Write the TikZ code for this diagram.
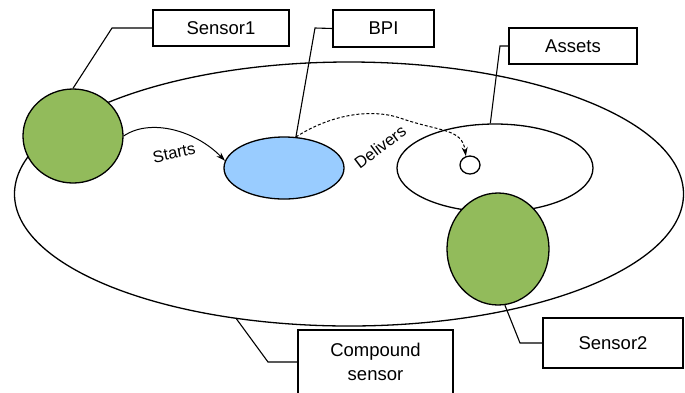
\documentclass[tikz,border=0pt]{standalone}
\usepackage{fontspec}
\setmainfont{Liberation Sans}
\usetikzlibrary{shapes.geometric,arrows.meta}
\definecolor{sgreen}{RGB}{146,187,91}
\definecolor{sblue}{RGB}{153,204,255}
\tikzset{
  ell/.style={ellipse,draw,line width=1.3pt,inner sep=0pt},
  lbl/.style={draw,line width=1.1pt,fill=white,align=center,inner sep=0pt,font=\fontsize{18.5}{24}\selectfont},
  conn/.style={line width=1.1pt},
  rel/.style={line width=1pt,-{Stealth[length=9pt,width=6pt]}},
  rellbl/.style={font=\fontsize{16.5}{18}\selectfont,inner sep=0pt}
}
\begin{document}
\begin{tikzpicture}[x=1pt,y=-1pt]
\useasboundingbox (0,0) rectangle (685,392);
% compound sensor
\node[ell,fill=white,minimum width=669pt,minimum height=264pt] (comp) at (349,194) {};
% inner assets ellipse
\node[ell,minimum width=196pt,minimum height=88pt] (inner) at (495,168) {};
\node[ell,minimum width=20pt,minimum height=18pt] (asset) at (470,165) {};
% sensors and BPI
\node[ell,fill=sgreen,minimum width=100pt,minimum height=94pt] (s1) at (73,136) {};
\node[ell,fill=sblue,minimum width=120pt,minimum height=62pt] (bpi) at (284,168) {};
\node[ell,fill=sgreen,minimum width=102pt,minimum height=112pt] (s2) at (498,249) {};
% label boxes
\node[lbl,minimum width=136pt,minimum height=36pt] (ls1) at (221,28) {Sensor1};
\node[lbl,minimum width=101pt,minimum height=37pt] (lbpi) at (383.5,28.5) {BPI};
\node[lbl,minimum width=128pt,minimum height=36pt] (lass) at (573,46) {Assets};
\node[lbl,minimum width=140pt,minimum height=50pt] (ls2) at (613,343) {Sensor2};
\node[lbl,minimum width=155pt,minimum height=64pt] (lcomp) at (375.5,362) {Compound\\sensor};
% connectors to labels
\draw[conn] (s1.north) -- (112,28) -- (ls1.west);
\draw[conn] (bpi.69) -- (315,28) -- (lbpi.west);
\draw[conn] (inner.96) -- (500,46) -- (lass.west);
\draw[conn] (s2.-83) -- (520,343) -- (ls2.west);
\draw[conn] (comp.228.7) -- (268,362) -- (lcomp.west);
% relations
\draw[rel] (s1.east) .. controls (150,118) and (195,130) .. (bpi.173);
\draw[rel,dash pattern=on 3pt off 2pt] (bpi.69) .. controls (330,115) and (370,108) .. (400,118) .. controls (440,132) and (462,128) .. (asset.115);
\node[rellbl,rotate=12] (tstarts) at (174,153) {Starts};
\node[rellbl,rotate=37] (tdeliv) at (380,147) {Delivers};
\end{tikzpicture}
\end{document}
